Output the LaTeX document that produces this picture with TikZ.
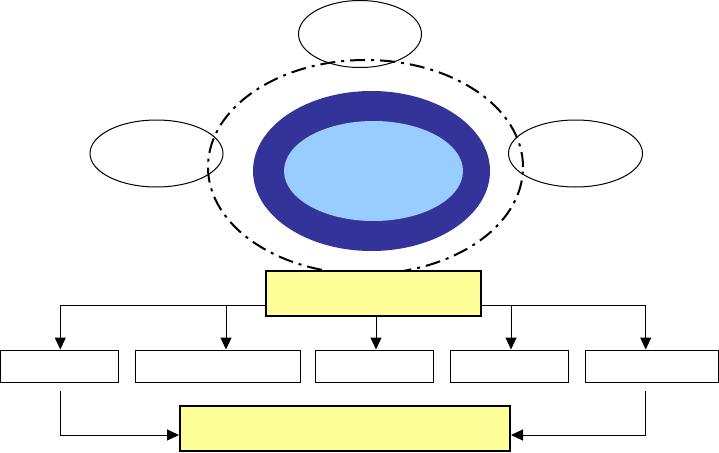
\documentclass[tikz,border=0pt]{standalone}
\usetikzlibrary{shapes.geometric,arrows.meta}
\definecolor{navyring}{HTML}{333399}
\definecolor{skycore}{HTML}{99CCFF}
\definecolor{paleyellow}{HTML}{FFFF99}
\begin{document}
\begin{tikzpicture}[x=1pt,y=-1pt,
  oval/.style={ellipse,draw=black,line width=1pt,inner sep=0pt},
  ybox/.style={rectangle,draw=black,fill=paleyellow,line width=2pt,inner sep=0pt},
  wbox/.style={rectangle,draw=black,line width=1pt,inner sep=0pt},
  arr/.style={line width=1pt,-{Triangle[width=11pt,length=12pt]}},
  dashdot/.style={line width=2pt,dash pattern=on 15pt off 6pt on 3pt off 6pt}]
\useasboundingbox (0,0) rectangle (719,452);
% ellipses
\node[oval,minimum width=123pt,minimum height=67pt] (topoval) at (360,34) {};
\node[oval,minimum width=133pt,minimum height=67pt] (leftoval) at (156.5,153.5) {};
\node[oval,minimum width=134pt,minimum height=67pt] (rightoval) at (575.5,153.5) {};
\node[ellipse,fill=navyring,inner sep=0pt,minimum width=237pt,minimum height=160pt] (ring) at (371.5,171) {};
\node[ellipse,fill=skycore,inner sep=0pt,minimum width=179pt,minimum height=100pt] (core) at (373.5,171) {};
\node[ellipse,draw=black,dashdot,inner sep=0pt,minimum width=315pt,minimum height=214pt] (halo) at (365.5,167) {};
% top yellow box
\node[ybox,minimum width=215pt,minimum height=45pt] (hub) at (373.5,293.5) {};
% bottom row boxes
\node[wbox,minimum width=118pt,minimum height=32pt] (b1) at (59.5,366) {};
\node[wbox,minimum width=165pt,minimum height=32pt] (b2) at (218,366) {};
\node[wbox,minimum width=118pt,minimum height=32pt] (b3) at (374.3,366) {};
\node[wbox,minimum width=118pt,minimum height=32pt] (b4) at (509.5,366) {};
\node[wbox,minimum width=133pt,minimum height=32pt] (b5) at (652,366) {};
% bottom yellow box
\node[ybox,minimum width=330pt,minimum height=45pt] (sink) at (345,428.3) {};
% bus coordinates
\coordinate (busL) at (266,305.7);
\coordinate (busR) at (481,305.7);
\coordinate (j1) at (60.3,305.7);
\coordinate (j2) at (226,305.7);
\coordinate (j3) at (376,316);
\coordinate (j4) at (511,305.7);
\coordinate (j5) at (645.7,305.7);
% connectors from hub
\draw[arr] (busL) -- (j1) -- (j1 |- b1.north);
\draw[arr] (j2) -- (j2 |- b2.north);
\draw[arr] (j3) -- (j3 |- b3.north);
\draw[arr] (busR) -- (j5) -- (j5 |- b5.north);
\draw[arr] (j4) -- (j4 |- b4.north);
% connectors to sink
\coordinate (s1) at (60,391);
\coordinate (s5) at (645,391);
\coordinate (c1) at (60,435);
\coordinate (c5) at (645,435);
\draw[arr] (s1) -- (c1) -- (c1 -| sink.west);
\draw[arr] (s5) -- (c5) -- (c5 -| sink.east);
\end{tikzpicture}
\end{document}
